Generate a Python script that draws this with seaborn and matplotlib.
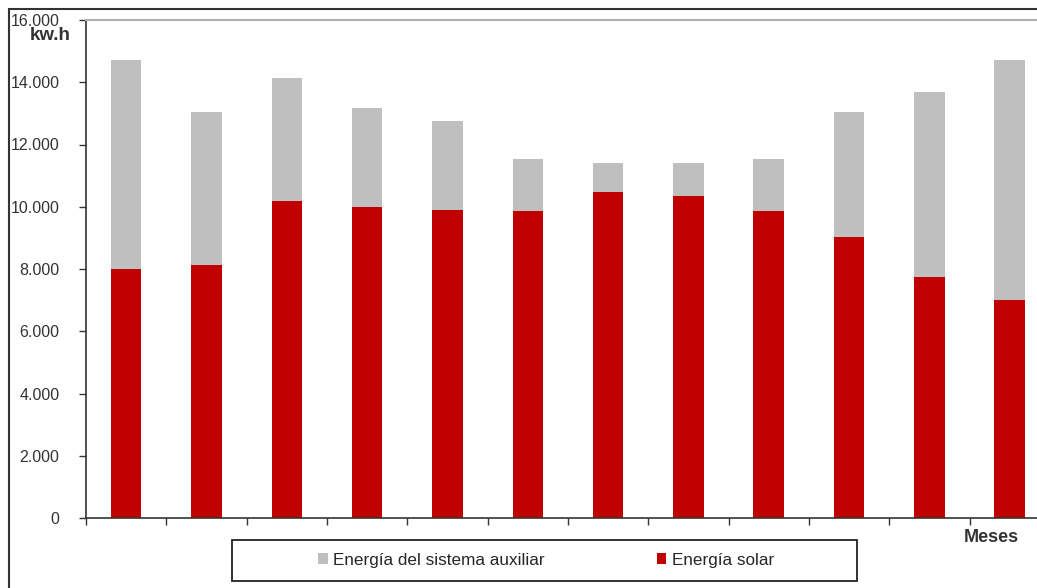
import numpy as np
import pandas as pd
import seaborn as sns
import matplotlib.pyplot as plt
from matplotlib.patches import Rectangle
from matplotlib.ticker import FuncFormatter

meses = ['Ene', 'Feb', 'Mar', 'Abr', 'May', 'Jun', 'Jul', 'Ago', 'Sep', 'Oct', 'Nov', 'Dic']
total = [14700, 13050, 14150, 13180, 12760, 11540, 11410, 11410, 11540, 13050, 13700, 14720]
solar = [8000, 8130, 10190, 10000, 9900, 9870, 10480, 10350, 9870, 9040, 7750, 7020]

df = pd.DataFrame({'Mes': meses, 'Total': total, 'Solar': solar})

sns.set_style('white')
plt.rcParams['font.family'] = ['Liberation Sans', 'DejaVu Sans']

fig = plt.figure(figsize=(10.37, 5.88), dpi=100)
ax = fig.add_axes([86 / 1037, 1 - 518 / 588, 1 - 86 / 1037, (518 - 20) / 588])

sns.barplot(data=df, x='Mes', y='Total', color='#bfbfbf', width=0.38, saturation=1,
            linewidth=0, ax=ax, label='Energía del sistema auxiliar')
sns.barplot(data=df, x='Mes', y='Solar', color='#c00000', width=0.38, saturation=1,
            linewidth=0, ax=ax, label='Energía solar')
handles, labels = ax.get_legend_handles_labels()
if ax.get_legend() is not None:
    ax.get_legend().remove()

ax.set_ylim(0, 16000)
ax.set_xlim(-0.5, 11.34)
ax.set_yticks(np.arange(0, 16001, 2000))
ax.yaxis.set_major_formatter(FuncFormatter(lambda v, p: f'{int(v):,}'.replace(',', '.')))
ax.set_xticks(np.arange(-0.5, 11.5, 1))
ax.set_xticklabels([])
ax.set_xlabel('')
ax.set_ylabel('')
ax.tick_params(axis='y', direction='out', length=5, width=1, color='#333333',
               labelsize=11.5, labelcolor='#333333', left=True, pad=14)
ax.tick_params(axis='x', direction='out', length=5, width=1, color='#333333', bottom=True)

for s in ['left', 'bottom']:
    ax.spines[s].set_color('#333333')
    ax.spines[s].set_linewidth(1.2)
ax.spines['top'].set_color('#b0b0b0')
ax.spines['top'].set_linewidth(1.5)
ax.spines['right'].set_visible(False)

fig.text(30 / 1037, 1 - 36 / 588, 'kw.h', fontsize=13.5, fontweight='bold', color='#333333',
         ha='left', va='center')
fig.text(991 / 1037, 1 - 538 / 588, 'Meses', fontsize=13, fontweight='bold', color='#333333',
         ha='center', va='center')

# legend box
fig.patches.append(Rectangle((232 / 1037, 1 - 581 / 588), (857 - 232) / 1037, 41 / 588,
                             transform=fig.transFigure, fill=True, facecolor='white',
                             edgecolor='#222222', linewidth=1.3))
fig.legend(handles, labels, loc='center', bbox_to_anchor=(546 / 1037, 1 - 560 / 588),
           ncol=2, frameon=False, fontsize=12.3, handlelength=0.55, handleheight=0.55,
           handletextpad=0.3, columnspacing=6.6)

# outer frame of the picture
fig.patches.append(Rectangle((9 / 1037, -0.1), 1.2, 1 - 9 / 588 + 0.1, transform=fig.transFigure,
                             fill=False, edgecolor='#333333', linewidth=1.5))

plt.savefig('out.png', dpi=100)
